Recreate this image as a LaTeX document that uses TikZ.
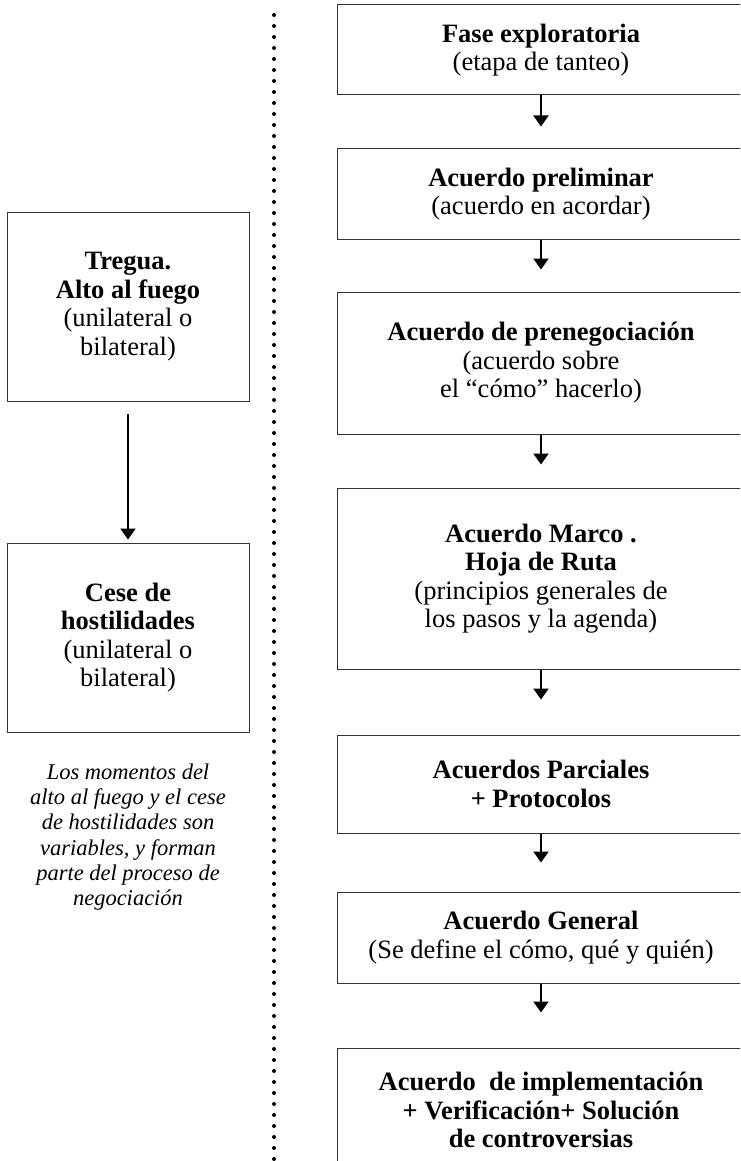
\documentclass[tikz,border=0pt]{standalone}
\usepackage{fontspec}
\setmainfont{Liberation Serif}
\usetikzlibrary{arrows.meta}
\begin{document}
\begin{tikzpicture}[x=1pt,y=-1pt,
  box/.style={draw=black!80,line width=1pt,inner sep=0pt,align=center,
    font=\fontsize{26.5}{28.5}\selectfont},
  rbox/.style={box,minimum width=408pt},
  lbox/.style={box,minimum width=242pt,minimum height=189pt},
  arr/.style={line width=2pt,-{Triangle[width=15pt,length=11pt]}},
  note/.style={align=center,font=\fontsize{22.5}{25.2}\selectfont\itshape},
  sep/.style={line width=4pt,line cap=round,dash pattern=on 0pt off 11pt}
]
\clip (0,0) rectangle (740,1161);
\useasboundingbox (0,0) rectangle (740,1161);

% separator
\coordinate (s1) at (274,15);
\coordinate (s2) at (274,1170);
\draw[sep] (s1) -- (s2);

% right column
\node[rbox,minimum height=90pt]  (b1) at (541,50)    {\textbf{Fase exploratoria}\\(etapa de tanteo)};
\node[rbox,minimum height=90pt]  (b2) at (541,194)   {\textbf{Acuerdo preliminar}\\(acuerdo en acordar)};
\node[rbox,minimum height=142pt] (b3) at (541,363)   {\textbf{Acuerdo de prenegociación}\\(acuerdo sobre\\el “cómo” hacerlo)};
\node[rbox,minimum height=181pt] (b4) at (541,578.5) {\textbf{Acuerdo Marco .}\\\textbf{Hoja de Ruta}\\(principios generales de\\los pasos y la agenda)};
\node[rbox,minimum height=98pt]  (b5) at (541,784)   {\textbf{Acuerdos Parciales}\\\textbf{+ Protocolos}};
\node[rbox,minimum height=91pt]  (b6) at (541,937.5) {\textbf{Acuerdo General}\\(Se define el cómo, qué y quién)};
\node[rbox,minimum height=124pt] (b7) at (541,1110)  {\textbf{Acuerdo\ \ de implementación}\\\textbf{+ Verificación+ Solución}\\\textbf{de controversias}};

\draw[arr,shorten >=22pt] (b1.south) -- (b2.north);
\draw[arr,shorten >=22pt] (b2.south) -- (b3.north);
\draw[arr,shorten >=23pt] (b3.south) -- (b4.north);
\draw[arr,shorten >=35pt] (b4.south) -- (b5.north);
\draw[arr,shorten >=29pt] (b5.south) -- (b6.north);
\draw[arr,shorten >=35pt] (b6.south) -- (b7.north);

% left column
\node[lbox] (l1) at (128,306.5) {\textbf{Tregua.}\\\textbf{Alto al fuego}\\(unilateral o\\bilateral)};
\node[lbox] (l2) at (128,637.5) {\textbf{Cese de}\\\textbf{hostilidades}\\(unilateral o\\bilateral)};
\draw[arr,shorten <=12pt,shorten >=3pt] (l1.south) -- (l2.north);

\node[note] (n) at (128,837) {Los momentos del\\alto al fuego y el cese\\de hostilidades son\\variables, y forman\\parte del proceso de\\negociación};
\end{tikzpicture}
\end{document}
